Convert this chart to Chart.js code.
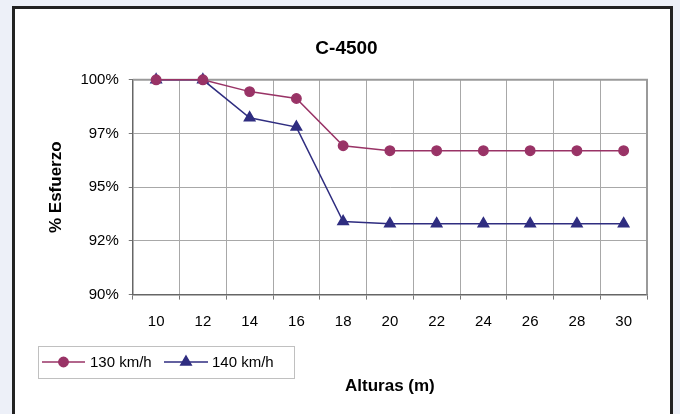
<!DOCTYPE html>
<html>
<head>
<meta charset="utf-8">
<script src="https://cdn.jsdelivr.net/npm/chart.js@4"></script>
<style>
html,body{margin:0;padding:0;background:#edf0f8;}
#wrap{width:680px;height:414px;position:relative;}
canvas{display:block;}
</style>
</head>
<body>
<div id="wrap"><canvas id="c" width="680" height="414"></canvas></div>
<script>
// ---- data ----
const alturas = ['10','12','14','16','18','20','22','24','26','28','30'];
const esfuerzo130 = [100, 100, 99.45, 99.13, 96.93, 96.70, 96.70, 96.70, 96.70, 96.70, 96.70];
const esfuerzo140 = [100, 100, 98.23, 97.80, 93.40, 93.30, 93.30, 93.30, 93.30, 93.30, 93.30];
const serieNames = ['130 km/h', '140 km/h'];
const yTickLabels = ['90%', '92%', '95%', '97%', '100%'];
const chartTitle = 'C-4500';
const xTitle = 'Alturas (m)';
const yTitle = '% Esfuerzo';

const FONT = "'Liberation Sans', Arial, sans-serif";

const framePlugin = {
  id: 'frame',
  beforeDraw(chart) {
    const ctx = chart.ctx;
    ctx.save();
    ctx.fillStyle = '#edf0f8';
    ctx.fillRect(0, 0, chart.width, chart.height);
    ctx.fillStyle = '#ffffff';
    ctx.fillRect(13, 7, 659, 420);
    ctx.strokeStyle = '#222222';
    ctx.lineWidth = 3;
    ctx.strokeRect(13.5, 7.5, 658, 420);
    ctx.restore();
  },
  beforeDatasetsDraw(chart) {
    const ctx = chart.ctx;
    const a = chart.chartArea;
    ctx.save();
    ctx.strokeStyle = '#9a9a9a';
    ctx.lineWidth = 2;
    ctx.beginPath();
    ctx.moveTo(a.left, a.top);
    ctx.lineTo(a.right, a.top);
    ctx.lineTo(a.right, a.bottom);
    ctx.stroke();
    ctx.restore();
  },
  afterDraw(chart) {
    const ctx = chart.ctx;
    ctx.save();
    // legend
    const bx = 38, by = 346, bw = 256, bh = 32;
    ctx.fillStyle = '#ffffff';
    ctx.fillRect(bx, by, bw, bh);
    ctx.strokeStyle = '#c0c0c0';
    ctx.lineWidth = 1;
    ctx.strokeRect(bx + 0.5, by + 0.5, bw, bh);
    const cy = by + bh / 2;
    const items = [{x0: 42, x1: 85, tx: 90}, {x0: 164, x1: 208, tx: 212}];
    chart.data.datasets.forEach((ds, i) => {
      const it = items[i];
      ctx.strokeStyle = ds.borderColor;
      ctx.lineWidth = ds.borderWidth;
      ctx.beginPath();
      ctx.moveTo(it.x0, cy);
      ctx.lineTo(it.x1, cy);
      ctx.stroke();
      ctx.fillStyle = ds.pointBackgroundColor;
      ctx.strokeStyle = ds.pointBorderColor;
      Chart.helpers.drawPoint(ctx, {
        pointStyle: ds.pointStyle,
        radius: ds.pointRadius,
        borderWidth: 1
      }, (it.x0 + it.x1) / 2, cy);
      ctx.fillStyle = '#000';
      ctx.font = '15px ' + FONT;
      ctx.textBaseline = 'middle';
      ctx.textAlign = 'left';
      ctx.fillText(ds.label, it.tx, cy + 1);
    });
    ctx.restore();
  }
};

new Chart(document.getElementById('c'), {
  type: 'line',
  data: {
    labels: alturas,
    datasets: [
      {
        label: serieNames[0], data: esfuerzo130,
        borderColor: '#993366', backgroundColor: '#993366',
        pointBackgroundColor: '#993366', pointBorderColor: '#993366',
        borderWidth: 1.5, pointStyle: 'circle', pointRadius: 4.7, tension: 0, clip: false
      },
      {
        label: serieNames[1], data: esfuerzo140,
        borderColor: '#2f2d80', backgroundColor: '#2f2d80',
        pointBackgroundColor: '#2f2d80', pointBorderColor: '#2f2d80',
        borderWidth: 1.5, pointStyle: 'triangle', pointRadius: 6, tension: 0, clip: false
      }
    ]
  },
  options: {
    responsive: false,
    animation: false,
    devicePixelRatio: 1,
    layout: { padding: { left: 46, right: 33, top: 17, bottom: 0 } },
    plugins: {
      legend: { display: false },
      tooltip: { enabled: false },
      title: {
        display: true, text: chartTitle, color: '#000',
        font: { family: FONT, size: 19, weight: 'bold' },
        padding: { top: 20, bottom: 20 }
      }
    },
    scales: {
      x: {
        type: 'category',
        offset: true,
        grid: { offset: true, color: '#a8a8a8', lineWidth: 1, tickLength: 5, tickColor: '#777' },
        border: { color: '#666', width: 1.5 },
        ticks: { color: '#000', font: { family: FONT, size: 15 }, padding: 13, autoSkip: false, maxRotation: 0 },
        title: {
          display: true, text: xTitle, color: '#000',
          font: { family: FONT, size: 17, weight: 'bold' },
          padding: { top: 33, bottom: 17 }
        }
      },
      y: {
        min: 90, max: 100,
        grid: { color: '#a8a8a8', lineWidth: 1, tickLength: 4, tickColor: '#777' },
        border: { color: '#666', width: 1.5 },
        ticks: {
          stepSize: 2.5, color: '#000', font: { family: FONT, size: 15 }, padding: 10,
          callback: (v, i) => yTickLabels[i]
        },
        title: {
          display: true, text: yTitle, color: '#000',
          font: { family: FONT, size: 17, weight: 'bold' },
          padding: { top: 0, bottom: 4 }
        }
      }
    }
  },
  plugins: [framePlugin]
});
</script>
</body>
</html>
